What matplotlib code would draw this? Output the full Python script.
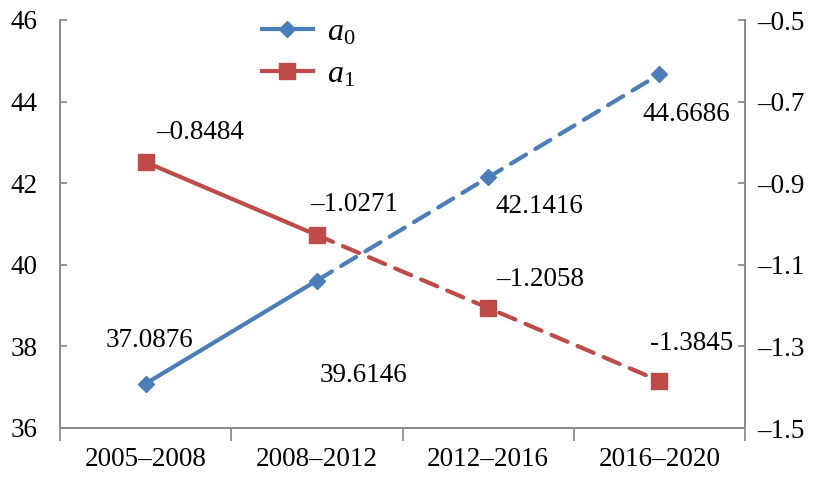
import matplotlib.pyplot as plt
from matplotlib.lines import Line2D

plt.rcParams['font.family'] = 'Liberation Serif'
plt.rcParams['mathtext.fontset'] = 'custom'
plt.rcParams['mathtext.it'] = 'Liberation Serif:italic'
plt.rcParams['mathtext.rm'] = 'Liberation Serif'
plt.rcParams['lines.dash_capstyle'] = 'round'

periods = ['2005–2008', '2008–2012', '2012–2016', '2016–2020']
a0 = [37.0876, 39.6146, 42.1416, 44.6686]
a1 = [-0.8484, -1.0271, -1.2058, -1.3845]
a0_labels = ['37.0876', '39.6146', '42.1416', '44.6686']
a1_labels = ['–0.8484', '–1.0271', '–1.2058', '-1.3845']
left_ticks = [36, 38, 40, 42, 44, 46]
right_ticks = [-1.5, -1.3, -1.1, -0.9, -0.7, -0.5]

blue = '#4a7ebb'
red = '#be4b48'
spine_c = '#8c8c8c'
fs = 19.5
lw = 3.0

fig = plt.figure(figsize=(8.16, 4.79), dpi=100)
ax = fig.add_axes([60 / 816, 1 - 428 / 479, 685 / 816, 408 / 479])
ax2 = ax.twinx()
x = list(range(len(periods)))

# solid for the first interval, dashed afterwards
dash = (0, (4.2, 2.6))
ax.plot(x[:2], a0[:2], color=blue, lw=lw)
ax.plot(x[1:], a0[1:], color=blue, lw=lw, ls=dash)
ax.plot(x, a0, ls='none', marker='D', ms=8, color=blue)
ax2.plot(x[:2], a1[:2], color=red, lw=lw)
ax2.plot(x[1:], a1[1:], color=red, lw=lw, ls=dash)
ax2.plot(x, a1, ls='none', marker='s', ms=11, color=red)

ax.set_xlim(-0.5, 3.5)
ax.set_ylim(36, 46)
ax2.set_ylim(-1.5, -0.5)
ax.set_yticks(left_ticks)
ax.set_yticklabels([str(t) for t in left_ticks])
ax2.set_yticks(right_ticks)
ax2.set_yticklabels([f'{t:.1f}'.replace('-', '–') for t in right_ticks])

ax.set_xticks(x)
ax.set_xticklabels(periods)
ax.set_xticks([-0.5, 0.5, 1.5, 2.5, 3.5], minor=True)
ax.tick_params(axis='x', which='major', length=0, pad=14, labelsize=fs)
ax.tick_params(axis='x', which='minor', length=9, direction='out', color=spine_c, width=1.3)
ax.tick_params(axis='y', direction='in', length=5, color=spine_c, width=1.3, labelsize=fs, pad=16)
ax2.tick_params(axis='y', direction='in', length=5, color=spine_c, width=1.3, labelsize=fs, pad=9)

for a in (ax, ax2):
    a.spines['top'].set_visible(False)
    for s in ('left', 'right', 'bottom'):
        a.spines[s].set_color(spine_c)
        a.spines[s].set_linewidth(1.3)

ann = dict(textcoords='offset pixels', ha='center', va='center', fontsize=fs)
a0_off = [(4, 43), (47, -95), (51, -29), (27, -40)]
a1_off = [(54, 30), (37, 31), (52, 28), (32, 37)]
for i in x:
    ax.annotate(a0_labels[i], (x[i], a0[i]), xytext=a0_off[i], **ann)
    ax2.annotate(a1_labels[i], (x[i], a1[i]), xytext=a1_off[i], **ann)

handles = [Line2D([], [], color=blue, lw=lw, marker='D', ms=8),
           Line2D([], [], color=red, lw=lw, marker='s', ms=11)]
ax.legend(handles, [r'$a_0$', r'$a_1$'], loc='upper left', bbox_to_anchor=(0.2526, 1.075),
          frameon=False, fontsize=23, handlelength=1.6, labelspacing=0.4, handletextpad=0.45)

fig.savefig('out.png', dpi=100)
